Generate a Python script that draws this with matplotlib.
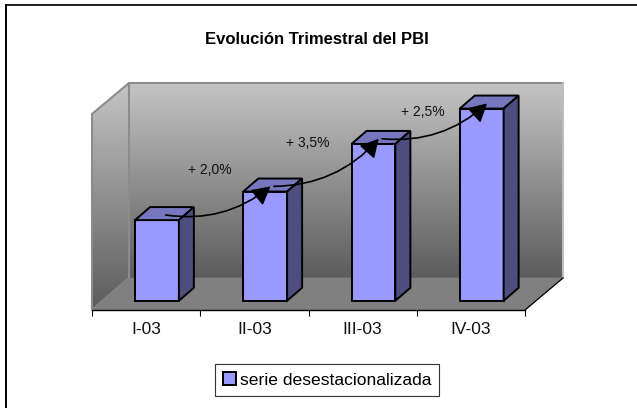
import matplotlib
matplotlib.use("Agg")
import matplotlib.pyplot as plt
import numpy as np
from matplotlib.colors import LinearSegmentedColormap
from matplotlib.patches import Polygon

categories = ["I-03", "II-03", "III-03", "IV-03"]
values = [100.0, 102.1, 105.6, 108.2]
growth_labels = ["+ 2,0%", "+ 3,5%", "+ 2,5%"]
series_name = "serie desestacionalizada"

W, H = 637, 408
BAR_W = 0.405      # ancho en unidades de categoria
DX_PX, DY_PX = 15, 13

plt.rcParams["font.family"] = ["Liberation Sans", "DejaVu Sans"]
fig = plt.figure(figsize=(W / 100, H / 100), dpi=100, facecolor="white")

# fondo 3D en pixeles
bg = fig.add_axes([0, 0, 1, 1])
bg.set_xlim(0, W)
bg.set_ylim(H, 0)
bg.axis("off")

wall_cmap = LinearSegmentedColormap.from_list("wall", ["#c4c4c4", "#5c5c5c"])
gradient = np.linspace(0, 1, 256).reshape(-1, 1)
back = bg.imshow(gradient, extent=(129, 563, 278, 83), cmap=wall_cmap, aspect="auto", zorder=1)
side = bg.imshow(gradient, extent=(92, 129, 310, 83), cmap=wall_cmap, aspect="auto", zorder=1)
left_wall = Polygon([(92, 114), (129, 83), (129, 278), (92, 310)], closed=True, fc="none",
                    ec="#8c8c8c", lw=1.5, zorder=2)
bg.add_patch(left_wall)
side.set_clip_path(left_wall)
bg.plot([129, 563], [83, 83], color="#8c8c8c", lw=1.5, zorder=2)
bg.plot([563, 563], [83, 278], color="#bdbdbd", lw=1.5, zorder=2)
bg.add_patch(Polygon([(92, 310), (129, 278), (563, 278), (525, 310)], closed=True,
                     fc="#808080", ec="#808080", lw=0.5, zorder=3))
bg.plot([525, 563], [310, 278], color="black", lw=0.9, zorder=4)

# marco: solo arriba e izquierda
bg.plot([6, W], [3.6, 3.6], color="#b0b0b0", lw=0.8, zorder=5)
bg.plot([6, W], [5, 5], color="black", lw=1.2, zorder=5)
bg.plot([6, 6], [5, H], color="black", lw=1.4, zorder=5)

bg.text(317, 40, "Evolución Trimestral del PBI", ha="center", va="center",
        fontsize=12, fontweight="bold", color="black")

# ejes de las barras
ax = fig.add_axes([92 / W, 1 - 310 / H, (525 - 92) / W, (310 - 83) / H])
ax.patch.set_alpha(0)
ax.set_xlim(-0.5, 3.5)
ax.set_ylim(93.39, 110.08)
for s in ["top", "left", "right"]:
    ax.spines[s].set_visible(False)
ax.spines["bottom"].set_linewidth(1.0)
ax.set_yticks([])
x = np.arange(len(categories))
ax.set_xticks(x)
ax.set_xticklabels(categories, fontsize=12.5, color="#111111")
ax.set_xticks(np.arange(-0.5, 4, 1), minor=True)
ax.tick_params(axis="x", which="major", length=0, pad=8.5)
ax.tick_params(axis="x", which="minor", length=4, width=0.8)

px_x = 4 / (525 - 92)
px_y = (110.08 - 93.39) / (310 - 83)
dx, dy = DX_PX * px_x, DY_PX * px_y
base = 94.07
offset = 0.1

bars = ax.bar(x + offset, np.array(values) - base, BAR_W, bottom=base, color="#9999ff",
              edgecolor="black", linewidth=1.4, zorder=3, label=series_name, clip_on=False)
for xi, v in zip(x + offset, values):
    l, r = xi - BAR_W / 2, xi + BAR_W / 2
    ax.add_patch(Polygon([(l, v), (r, v), (r + dx, v + dy), (l + dx, v + dy)], closed=True,
                         fc="#7777c0", ec="black", lw=1.4, zorder=3, clip_on=False))
    ax.add_patch(Polygon([(r, base), (r + dx, base + dy), (r + dx, v + dy), (r, v)], closed=True,
                         fc="#4d4d80", ec="black", lw=1.4, zorder=3, clip_on=False))

# flechas de crecimiento entre barras
for i in range(len(values) - 1):
    start = (x[i] + offset + dx / 2 + 0.01, values[i] + dy / 2 - 0.1)
    end = (x[i + 1] + offset + dx / 2 - 0.02, values[i + 1] + dy / 2 - 0.1)
    ax.annotate("", xy=end, xytext=start, zorder=6,
                arrowprops=dict(arrowstyle="-|>,head_length=1.1,head_width=0.6", color="black",
                                lw=1.2, shrinkA=0, shrinkB=0, mutation_scale=10,
                                connectionstyle="arc3,rad=0.22"))

label_pos = [(210, 170), (308, 143), (423, 112)]
fig_top = fig.add_axes([0, 0, 1, 1])
fig_top.set_xlim(0, W)
fig_top.set_ylim(H, 0)
fig_top.axis("off")
for (px, py), txt in zip(label_pos, growth_labels):
    fig_top.text(px, py, txt, ha="center", va="center", fontsize=10, color="#111111")

leg = ax.legend(handles=[bars], loc="center", bbox_to_anchor=((327 - 92) / (525 - 92), (310 - 380) / (310 - 83)),
                fontsize=12.6, fancybox=False, framealpha=1, edgecolor="#333333",
                handlelength=0.75, handleheight=0.75, handletextpad=0.25, borderpad=0.45,
                borderaxespad=0)
leg.get_frame().set_linewidth(0.8)

fig.savefig("out.png", dpi=100)
